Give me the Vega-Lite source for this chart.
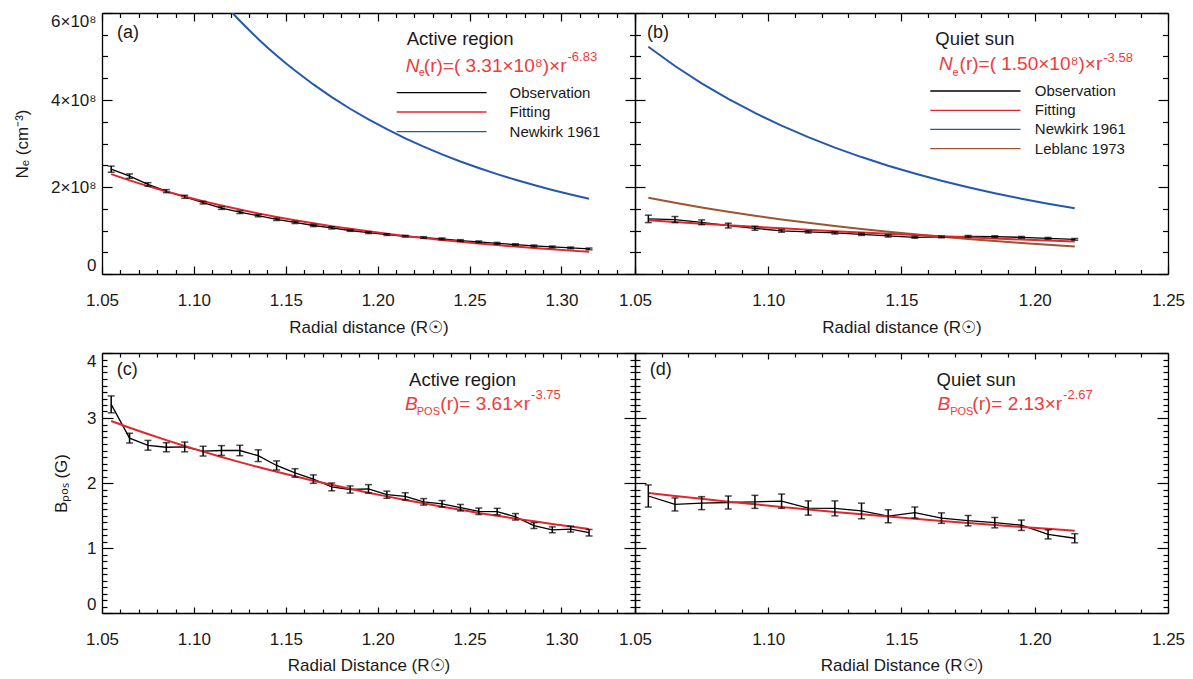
{
"$schema": "https://vega.github.io/schema/vega-lite/v6.json",
"padding": {"left": 13, "top": 12, "right": 5, "bottom": 5},
"background": "white",
"config": {
 "font": "Liberation Sans",
 "view": {"stroke": null},
 "axis": {"grid": false, "domainColor": "#000", "domainWidth": 1.3, "tickColor": "#000", "tickWidth": 1.2, "labelFont": "Liberation Sans", "labelFontSize": 17, "labelColor": "#1a1a1a", "titleFont": "Liberation Sans", "titleFontSize": 17, "titleFontWeight": "normal", "titleColor": "#1a1a1a", "labelOverlap": false, "labelBound": false},
 "text": {"font": "Liberation Sans", "baseline": "middle", "align": "left"}
},
"datasets": {
 "a": [
  {"r":1.055,"v":241000000,"series":"Observation","err":7000000},
  {"r":1.065,"v":225000000,"series":"Observation","err":5000000},
  {"r":1.075,"v":206000000,"series":"Observation","err":4000000},
  {"r":1.085,"v":190500000,"series":"Observation","err":3500000},
  {"r":1.095,"v":177500000,"series":"Observation","err":3500000},
  {"r":1.105,"v":164000000,"series":"Observation","err":3000000},
  {"r":1.115,"v":151500000,"series":"Observation","err":3000000},
  {"r":1.125,"v":142000000,"series":"Observation","err":3000000},
  {"r":1.135,"v":134000000,"series":"Observation","err":2500000},
  {"r":1.145,"v":125500000,"series":"Observation","err":2500000},
  {"r":1.155,"v":118500000,"series":"Observation","err":2500000},
  {"r":1.165,"v":111500000,"series":"Observation","err":2500000},
  {"r":1.175,"v":106000000,"series":"Observation","err":2500000},
  {"r":1.185,"v":100000000,"series":"Observation","err":2000000},
  {"r":1.195,"v":95000000,"series":"Observation","err":2000000},
  {"r":1.205,"v":90700000,"series":"Observation","err":2000000},
  {"r":1.215,"v":86800000,"series":"Observation","err":2000000},
  {"r":1.225,"v":83800000,"series":"Observation","err":2000000},
  {"r":1.235,"v":80800000,"series":"Observation","err":2000000},
  {"r":1.245,"v":76900000,"series":"Observation","err":2000000},
  {"r":1.255,"v":73900000,"series":"Observation","err":2000000},
  {"r":1.265,"v":70600000,"series":"Observation","err":2000000},
  {"r":1.275,"v":67600000,"series":"Observation","err":2000000},
  {"r":1.285,"v":64600000,"series":"Observation","err":2000000},
  {"r":1.295,"v":62300000,"series":"Observation","err":2000000},
  {"r":1.305,"v":60000000,"series":"Observation","err":2000000},
  {"r":1.315,"v":57700000,"series":"Observation","err":2000000},
  {"r":1.055,"v":229610000,"series":"Fitting"},
  {"r":1.065,"v":215300000,"series":"Fitting"},
  {"r":1.075,"v":201980000,"series":"Fitting"},
  {"r":1.085,"v":189610000,"series":"Fitting"},
  {"r":1.095,"v":178080000,"series":"Fitting"},
  {"r":1.105,"v":167360000,"series":"Fitting"},
  {"r":1.115,"v":157380000,"series":"Fitting"},
  {"r":1.125,"v":148070000,"series":"Fitting"},
  {"r":1.135,"v":139380000,"series":"Fitting"},
  {"r":1.145,"v":131270000,"series":"Fitting"},
  {"r":1.155,"v":123710000,"series":"Fitting"},
  {"r":1.165,"v":116630000,"series":"Fitting"},
  {"r":1.175,"v":110020000,"series":"Fitting"},
  {"r":1.185,"v":103830000,"series":"Fitting"},
  {"r":1.195,"v":98040000,"series":"Fitting"},
  {"r":1.205,"v":92610000,"series":"Fitting"},
  {"r":1.215,"v":87530000,"series":"Fitting"},
  {"r":1.225,"v":82760000,"series":"Fitting"},
  {"r":1.235,"v":78290000,"series":"Fitting"},
  {"r":1.245,"v":74100000,"series":"Fitting"},
  {"r":1.255,"v":70160000,"series":"Fitting"},
  {"r":1.265,"v":66460000,"series":"Fitting"},
  {"r":1.275,"v":62980000,"series":"Fitting"},
  {"r":1.285,"v":59710000,"series":"Fitting"},
  {"r":1.295,"v":56630000,"series":"Fitting"},
  {"r":1.305,"v":53730000,"series":"Fitting"},
  {"r":1.315,"v":51000000,"series":"Fitting"},
  {"r":1.115,"v":627900000,"series":"Newkirk 1961"},
  {"r":1.12,"v":604400000,"series":"Newkirk 1961"},
  {"r":1.125,"v":582200000,"series":"Newkirk 1961"},
  {"r":1.13,"v":560800000,"series":"Newkirk 1961"},
  {"r":1.135,"v":540400000,"series":"Newkirk 1961"},
  {"r":1.14,"v":520900000,"series":"Newkirk 1961"},
  {"r":1.145,"v":502400000,"series":"Newkirk 1961"},
  {"r":1.15,"v":484500000,"series":"Newkirk 1961"},
  {"r":1.155,"v":467700000,"series":"Newkirk 1961"},
  {"r":1.165,"v":435800000,"series":"Newkirk 1961"},
  {"r":1.175,"v":406700000,"series":"Newkirk 1961"},
  {"r":1.185,"v":379900000,"series":"Newkirk 1961"},
  {"r":1.195,"v":355300000,"series":"Newkirk 1961"},
  {"r":1.205,"v":332800000,"series":"Newkirk 1961"},
  {"r":1.215,"v":311800000,"series":"Newkirk 1961"},
  {"r":1.225,"v":292800000,"series":"Newkirk 1961"},
  {"r":1.235,"v":275000000,"series":"Newkirk 1961"},
  {"r":1.245,"v":258600000,"series":"Newkirk 1961"},
  {"r":1.255,"v":243600000,"series":"Newkirk 1961"},
  {"r":1.265,"v":229500000,"series":"Newkirk 1961"},
  {"r":1.275,"v":216500000,"series":"Newkirk 1961"},
  {"r":1.285,"v":204400000,"series":"Newkirk 1961"},
  {"r":1.295,"v":193200000,"series":"Newkirk 1961"},
  {"r":1.305,"v":182800000,"series":"Newkirk 1961"},
  {"r":1.315,"v":173100000,"series":"Newkirk 1961"}
 ],
 "b": [
  {"r":1.055,"v":126700000,"series":"Observation","err":8500000},
  {"r":1.065,"v":125100000,"series":"Observation","err":7000000},
  {"r":1.075,"v":118900000,"series":"Observation","err":5500000},
  {"r":1.085,"v":111300000,"series":"Observation","err":5500000},
  {"r":1.095,"v":105100000,"series":"Observation","err":4500000},
  {"r":1.105,"v":99100000,"series":"Observation","err":3000000},
  {"r":1.115,"v":96800000,"series":"Observation","err":2500000},
  {"r":1.125,"v":94500000,"series":"Observation","err":2500000},
  {"r":1.135,"v":91200000,"series":"Observation","err":2500000},
  {"r":1.145,"v":87600000,"series":"Observation","err":2500000},
  {"r":1.155,"v":84300000,"series":"Observation","err":2000000},
  {"r":1.165,"v":85200000,"series":"Observation","err":2000000},
  {"r":1.175,"v":86600000,"series":"Observation","err":2000000},
  {"r":1.185,"v":85900000,"series":"Observation","err":2000000},
  {"r":1.195,"v":84300000,"series":"Observation","err":2000000},
  {"r":1.205,"v":82000000,"series":"Observation","err":2000000},
  {"r":1.215,"v":79700000,"series":"Observation","err":2000000},
  {"r":1.055,"v":123840000,"series":"Fitting"},
  {"r":1.065,"v":119720000,"series":"Fitting"},
  {"r":1.075,"v":115780000,"series":"Fitting"},
  {"r":1.085,"v":112010000,"series":"Fitting"},
  {"r":1.095,"v":108390000,"series":"Fitting"},
  {"r":1.105,"v":104920000,"series":"Fitting"},
  {"r":1.115,"v":101590000,"series":"Fitting"},
  {"r":1.125,"v":98400000,"series":"Fitting"},
  {"r":1.135,"v":95330000,"series":"Fitting"},
  {"r":1.145,"v":92380000,"series":"Fitting"},
  {"r":1.155,"v":89550000,"series":"Fitting"},
  {"r":1.165,"v":86830000,"series":"Fitting"},
  {"r":1.175,"v":84210000,"series":"Fitting"},
  {"r":1.185,"v":81690000,"series":"Fitting"},
  {"r":1.195,"v":79270000,"series":"Fitting"},
  {"r":1.205,"v":76940000,"series":"Fitting"},
  {"r":1.215,"v":74700000,"series":"Fitting"},
  {"r":1.055,"v":522400000,"series":"Newkirk 1961"},
  {"r":1.065,"v":478200000,"series":"Newkirk 1961"},
  {"r":1.075,"v":438400000,"series":"Newkirk 1961"},
  {"r":1.085,"v":402600000,"series":"Newkirk 1961"},
  {"r":1.095,"v":370200000,"series":"Newkirk 1961"},
  {"r":1.105,"v":341100000,"series":"Newkirk 1961"},
  {"r":1.115,"v":314500000,"series":"Newkirk 1961"},
  {"r":1.125,"v":290600000,"series":"Newkirk 1961"},
  {"r":1.135,"v":268800000,"series":"Newkirk 1961"},
  {"r":1.145,"v":249000000,"series":"Newkirk 1961"},
  {"r":1.155,"v":231000000,"series":"Newkirk 1961"},
  {"r":1.165,"v":214500000,"series":"Newkirk 1961"},
  {"r":1.175,"v":199500000,"series":"Newkirk 1961"},
  {"r":1.185,"v":185700000,"series":"Newkirk 1961"},
  {"r":1.195,"v":173100000,"series":"Newkirk 1961"},
  {"r":1.205,"v":161600000,"series":"Newkirk 1961"},
  {"r":1.215,"v":150900000,"series":"Newkirk 1961"},
  {"r":1.055,"v":175100000,"series":"Leblanc 1973"},
  {"r":1.065,"v":163600000,"series":"Leblanc 1973"},
  {"r":1.075,"v":153000000,"series":"Leblanc 1973"},
  {"r":1.085,"v":143100000,"series":"Leblanc 1973"},
  {"r":1.095,"v":133900000,"series":"Leblanc 1973"},
  {"r":1.105,"v":125500000,"series":"Leblanc 1973"},
  {"r":1.115,"v":117600000,"series":"Leblanc 1973"},
  {"r":1.125,"v":110300000,"series":"Leblanc 1973"},
  {"r":1.135,"v":103500000,"series":"Leblanc 1973"},
  {"r":1.145,"v":97100000,"series":"Leblanc 1973"},
  {"r":1.155,"v":91200000,"series":"Leblanc 1973"},
  {"r":1.165,"v":85700000,"series":"Leblanc 1973"},
  {"r":1.175,"v":80600000,"series":"Leblanc 1973"},
  {"r":1.185,"v":75800000,"series":"Leblanc 1973"},
  {"r":1.195,"v":71400000,"series":"Leblanc 1973"},
  {"r":1.205,"v":67200000,"series":"Leblanc 1973"},
  {"r":1.215,"v":63300000,"series":"Leblanc 1973"}
 ],
 "c": [
  {"r":1.055,"v":3.21,"series":"Observation","err":0.13},
  {"r":1.065,"v":2.69,"series":"Observation","err":0.075},
  {"r":1.075,"v":2.58,"series":"Observation","err":0.075},
  {"r":1.085,"v":2.55,"series":"Observation","err":0.07},
  {"r":1.095,"v":2.555,"series":"Observation","err":0.075},
  {"r":1.105,"v":2.49,"series":"Observation","err":0.075},
  {"r":1.115,"v":2.5,"series":"Observation","err":0.075},
  {"r":1.125,"v":2.5,"series":"Observation","err":0.08},
  {"r":1.135,"v":2.42,"series":"Observation","err":0.09},
  {"r":1.145,"v":2.27,"series":"Observation","err":0.07},
  {"r":1.155,"v":2.155,"series":"Observation","err":0.065},
  {"r":1.165,"v":2.06,"series":"Observation","err":0.065},
  {"r":1.175,"v":1.94,"series":"Observation","err":0.06},
  {"r":1.185,"v":1.9,"series":"Observation","err":0.055},
  {"r":1.195,"v":1.91,"series":"Observation","err":0.065},
  {"r":1.205,"v":1.82,"series":"Observation","err":0.055},
  {"r":1.215,"v":1.795,"series":"Observation","err":0.055},
  {"r":1.225,"v":1.71,"series":"Observation","err":0.05},
  {"r":1.235,"v":1.68,"series":"Observation","err":0.05},
  {"r":1.245,"v":1.62,"series":"Observation","err":0.05},
  {"r":1.255,"v":1.565,"series":"Observation","err":0.05},
  {"r":1.265,"v":1.56,"series":"Observation","err":0.05},
  {"r":1.275,"v":1.48,"series":"Observation","err":0.05},
  {"r":1.285,"v":1.345,"series":"Observation","err":0.045},
  {"r":1.295,"v":1.28,"series":"Observation","err":0.045},
  {"r":1.305,"v":1.29,"series":"Observation","err":0.045},
  {"r":1.315,"v":1.235,"series":"Observation","err":0.05},
  {"r":1.055,"v":2.953,"series":"Fitting"},
  {"r":1.065,"v":2.851,"series":"Fitting"},
  {"r":1.075,"v":2.753,"series":"Fitting"},
  {"r":1.085,"v":2.659,"series":"Fitting"},
  {"r":1.095,"v":2.569,"series":"Fitting"},
  {"r":1.105,"v":2.483,"series":"Fitting"},
  {"r":1.115,"v":2.4,"series":"Fitting"},
  {"r":1.125,"v":2.321,"series":"Fitting"},
  {"r":1.135,"v":2.245,"series":"Fitting"},
  {"r":1.145,"v":2.173,"series":"Fitting"},
  {"r":1.155,"v":2.103,"series":"Fitting"},
  {"r":1.165,"v":2.036,"series":"Fitting"},
  {"r":1.175,"v":1.972,"series":"Fitting"},
  {"r":1.185,"v":1.91,"series":"Fitting"},
  {"r":1.195,"v":1.851,"series":"Fitting"},
  {"r":1.205,"v":1.794,"series":"Fitting"},
  {"r":1.215,"v":1.739,"series":"Fitting"},
  {"r":1.225,"v":1.687,"series":"Fitting"},
  {"r":1.235,"v":1.636,"series":"Fitting"},
  {"r":1.245,"v":1.587,"series":"Fitting"},
  {"r":1.255,"v":1.54,"series":"Fitting"},
  {"r":1.265,"v":1.495,"series":"Fitting"},
  {"r":1.275,"v":1.452,"series":"Fitting"},
  {"r":1.285,"v":1.41,"series":"Fitting"},
  {"r":1.295,"v":1.369,"series":"Fitting"},
  {"r":1.305,"v":1.33,"series":"Fitting"},
  {"r":1.315,"v":1.293,"series":"Fitting"}
 ],
 "d": [
  {"r":1.055,"v":1.8,"series":"Observation","err":0.17},
  {"r":1.065,"v":1.67,"series":"Observation","err":0.1},
  {"r":1.075,"v":1.69,"series":"Observation","err":0.1},
  {"r":1.085,"v":1.7,"series":"Observation","err":0.1},
  {"r":1.095,"v":1.71,"series":"Observation","err":0.1},
  {"r":1.105,"v":1.72,"series":"Observation","err":0.11},
  {"r":1.115,"v":1.615,"series":"Observation","err":0.11},
  {"r":1.125,"v":1.61,"series":"Observation","err":0.115},
  {"r":1.135,"v":1.57,"series":"Observation","err":0.12},
  {"r":1.145,"v":1.49,"series":"Observation","err":0.1},
  {"r":1.155,"v":1.545,"series":"Observation","err":0.085},
  {"r":1.165,"v":1.46,"series":"Observation","err":0.08},
  {"r":1.175,"v":1.42,"series":"Observation","err":0.08},
  {"r":1.185,"v":1.39,"series":"Observation","err":0.08},
  {"r":1.195,"v":1.35,"series":"Observation","err":0.08},
  {"r":1.205,"v":1.21,"series":"Observation","err":0.07},
  {"r":1.215,"v":1.15,"series":"Observation","err":0.07},
  {"r":1.055,"v":1.846,"series":"Fitting"},
  {"r":1.065,"v":1.8,"series":"Fitting"},
  {"r":1.075,"v":1.756,"series":"Fitting"},
  {"r":1.085,"v":1.713,"series":"Fitting"},
  {"r":1.095,"v":1.672,"series":"Fitting"},
  {"r":1.105,"v":1.632,"series":"Fitting"},
  {"r":1.115,"v":1.593,"series":"Fitting"},
  {"r":1.125,"v":1.555,"series":"Fitting"},
  {"r":1.135,"v":1.519,"series":"Fitting"},
  {"r":1.145,"v":1.484,"series":"Fitting"},
  {"r":1.155,"v":1.45,"series":"Fitting"},
  {"r":1.165,"v":1.417,"series":"Fitting"},
  {"r":1.175,"v":1.385,"series":"Fitting"},
  {"r":1.185,"v":1.354,"series":"Fitting"},
  {"r":1.195,"v":1.324,"series":"Fitting"},
  {"r":1.205,"v":1.295,"series":"Fitting"},
  {"r":1.215,"v":1.266,"series":"Fitting"}
 ]
},
"columns": 2,
"bounds": "flush",
"spacing": {"row": 79, "column": 0},
"concat": [
 {
  "width": 533, "height": 261,
  "data": {"name": "a"},
  "resolve": {"axis": {"x": "independent", "y": "independent"}},
  "layer": [
   {"transform": [{"filter": "datum.series == 'Newkirk 1961'"}],
    "mark": {"type": "line", "color": "#2458b0", "strokeWidth": 2, "clip": true},
    "encoding": {
     "x": {"field": "r", "type": "quantitative", "scale": {"domain": [1.05, 1.34], "nice": false, "zero": false},
      "axis": {"orient": "bottom", "values": [1.05,1.06,1.07,1.08,1.09,1.1,1.11,1.12,1.13,1.14,1.15,1.16,1.17,1.18,1.19,1.2,1.21,1.22,1.23,1.24,1.25,1.26,1.27,1.28,1.29,1.3,1.31,1.32,1.33,1.34],
       "tickSize": {"condition": {"test": "abs(datum.value*20-round(datum.value*20))<0.001", "value": -8}, "value": -4.5},
       "labelExpr": "abs(datum.value*20-round(datum.value*20))<0.001 ? format(datum.value,'.2f') : ''",
       "labelPadding": 26, "labelFlush": false, "title": "Radial distance (R☉)", "titlePadding": 8}},
     "y": {"field": "v", "type": "quantitative", "scale": {"domain": [0, 600000000], "nice": false, "zero": false},
      "axis": {"orient": "left", "values": [0,50000000,100000000,150000000,200000000,250000000,300000000,350000000,400000000,450000000,500000000,550000000,600000000],
       "tickSize": {"condition": {"test": "abs(datum.value/2e8-round(datum.value/2e8))<0.001", "value": -10}, "value": -5.5},
       "labelExpr": "abs(datum.value/2e8-round(datum.value/2e8))<0.001 ? (datum.value == 0 ? '0' : format(datum.value/1e8,'d') + '×10⁸') : ''",
       "labelPadding": 16, "labelFlush": true, "title": "Nₑ (cm⁻³)", "titlePadding": 19}}
    }},
   {"transform": [{"filter": "datum.series == 'Fitting'"}],
    "mark": {"type": "line", "opacity": 0},
    "encoding": {
     "x": {"field": "r", "type": "quantitative",
      "axis": {"orient": "top", "values": [1.05,1.06,1.07,1.08,1.09,1.1,1.11,1.12,1.13,1.14,1.15,1.16,1.17,1.18,1.19,1.2,1.21,1.22,1.23,1.24,1.25,1.26,1.27,1.28,1.29,1.3,1.31,1.32,1.33,1.34],
       "tickSize": {"condition": {"test": "abs(datum.value*20-round(datum.value*20))<0.001", "value": -8}, "value": -4.5},
       "labels": false, "title": null}},
     "y": {"field": "v", "type": "quantitative",
      "axis": {"orient": "right", "values": [0,50000000,100000000,150000000,200000000,250000000,300000000,350000000,400000000,450000000,500000000,550000000,600000000],
       "tickSize": {"condition": {"test": "abs(datum.value/2e8-round(datum.value/2e8))<0.001", "value": -10}, "value": -5.5},
       "labels": false, "title": null}}
    }},
   {"transform": [{"filter": "datum.series == 'Observation'"}],
    "mark": {"type": "line", "color": "#000", "strokeWidth": 1.3},
    "encoding": {"x": {"field": "r", "type": "quantitative", "axis": null}, "y": {"field": "v", "type": "quantitative", "axis": null}}},
   {"transform": [{"filter": "datum.series == 'Fitting'"}],
    "mark": {"type": "line", "color": "#e0262e", "strokeWidth": 2},
    "encoding": {"x": {"field": "r", "type": "quantitative", "axis": null}, "y": {"field": "v", "type": "quantitative", "axis": null}}},
   {"transform": [{"filter": "datum.series == 'Observation'"}],
    "mark": {"type": "errorbar", "color": "#000", "thickness": 1.5, "ticks": {"size": 7, "thickness": 1.5, "color": "#000"}},
    "encoding": {"x": {"field": "r", "type": "quantitative", "axis": null}, "y": {"field": "v", "type": "quantitative", "axis": null}, "yError": {"field": "err"}}},
   {"data": {"values": [{}]}, "mark": {"type": "text", "text": "(a)", "fontSize": 18, "color": "#1a1a1a"},
    "encoding": {"x": {"datum": 1.05815, "axis": null}, "y": {"datum": 554700000, "axis": null}}},
   {"data": {"values": [{}]}, "mark": {"type": "text", "text": "Active region", "fontSize": 18.5, "color": "#1a1a1a"},
    "encoding": {"x": {"datum": 1.21576, "axis": null}, "y": {"datum": 539500000, "axis": null}}},
   {"data": {"values": [{}]}, "mark": {"type": "text", "text": "N", "fontSize": 19, "fontStyle": "italic", "color": "#ef3b3b"},
    "encoding": {"x": {"datum": 1.21522, "axis": null}, "y": {"datum": 478200000, "axis": null}}},
   {"data": {"values": [{}]}, "mark": {"type": "text", "text": "e", "fontSize": 11, "color": "#ef3b3b"},
    "encoding": {"x": {"datum": 1.22228, "axis": null}, "y": {"datum": 462800000, "axis": null}}},
   {"data": {"values": [{}]}, "mark": {"type": "text", "text": "(r)=( 3.31×10⁸)×r", "fontSize": 19, "align": "right", "color": "#ef3b3b"},
    "encoding": {"x": {"datum": 1.30272, "axis": null}, "y": {"datum": 478200000, "axis": null}}},
   {"data": {"values": [{}]}, "mark": {"type": "text", "text": "-6.83", "fontSize": 13, "color": "#ef3b3b"},
    "encoding": {"x": {"datum": 1.30326, "axis": null}, "y": {"datum": 498900000, "axis": null}}},
   {"data": {"values": [{}]}, "mark": {"type": "rule", "color": "#000", "strokeWidth": 1.3},
    "encoding": {"x": {"datum": 1.21033, "axis": null}, "x2": {"datum": 1.25924}, "y": {"datum": 416800000, "axis": null}}},
   {"data": {"values": [{}]}, "mark": {"type": "rule", "color": "#e0262e", "strokeWidth": 1.3},
    "encoding": {"x": {"datum": 1.21033, "axis": null}, "x2": {"datum": 1.25924}, "y": {"datum": 372400000, "axis": null}}},
   {"data": {"values": [{}]}, "mark": {"type": "rule", "color": "#2458b0", "strokeWidth": 1.3},
    "encoding": {"x": {"datum": 1.21033, "axis": null}, "x2": {"datum": 1.25924}, "y": {"datum": 327100000, "axis": null}}},
   {"data": {"values": [{}]}, "mark": {"type": "text", "text": "Observation", "fontSize": 15, "color": "#1a1a1a"},
    "encoding": {"x": {"datum": 1.27174, "axis": null}, "y": {"datum": 416800000, "axis": null}}},
   {"data": {"values": [{}]}, "mark": {"type": "text", "text": "Fitting", "fontSize": 15, "color": "#1a1a1a"},
    "encoding": {"x": {"datum": 1.27174, "axis": null}, "y": {"datum": 372400000, "axis": null}}},
   {"data": {"values": [{}]}, "mark": {"type": "text", "text": "Newkirk 1961", "fontSize": 15, "color": "#1a1a1a"},
    "encoding": {"x": {"datum": 1.27174, "axis": null}, "y": {"datum": 327100000, "axis": null}}}
  ]
 },
 {
  "width": 533, "height": 261,
  "data": {"name": "b"},
  "resolve": {"axis": {"x": "independent", "y": "independent"}},
  "layer": [
   {"transform": [{"filter": "datum.series == 'Newkirk 1961'"}],
    "mark": {"type": "line", "color": "#2458b0", "strokeWidth": 2, "clip": true},
    "encoding": {
     "x": {"field": "r", "type": "quantitative", "scale": {"domain": [1.05, 1.25], "nice": false, "zero": false},
      "axis": {"orient": "bottom", "values": [1.05,1.06,1.07,1.08,1.09,1.1,1.11,1.12,1.13,1.14,1.15,1.16,1.17,1.18,1.19,1.2,1.21,1.22,1.23,1.24,1.25],
       "tickSize": {"condition": {"test": "abs(datum.value*20-round(datum.value*20))<0.001", "value": -8}, "value": -4.5},
       "labelExpr": "abs(datum.value*20-round(datum.value*20))<0.001 ? format(datum.value,'.2f') : ''",
       "labelPadding": 26, "labelFlush": false, "title": "Radial distance (R☉)", "titlePadding": 8}},
     "y": {"field": "v", "type": "quantitative", "scale": {"domain": [0, 600000000], "nice": false, "zero": false},
      "axis": {"orient": "left", "values": [0,50000000,100000000,150000000,200000000,250000000,300000000,350000000,400000000,450000000,500000000,550000000,600000000],
       "tickSize": {"condition": {"test": "abs(datum.value/2e8-round(datum.value/2e8))<0.001", "value": -10}, "value": -5.5},
       "labels": false, "title": null}}
    }},
   {"transform": [{"filter": "datum.series == 'Fitting'"}],
    "mark": {"type": "line", "opacity": 0},
    "encoding": {
     "x": {"field": "r", "type": "quantitative",
      "axis": {"orient": "top", "values": [1.05,1.06,1.07,1.08,1.09,1.1,1.11,1.12,1.13,1.14,1.15,1.16,1.17,1.18,1.19,1.2,1.21,1.22,1.23,1.24,1.25],
       "tickSize": {"condition": {"test": "abs(datum.value*20-round(datum.value*20))<0.001", "value": -8}, "value": -4.5},
       "labels": false, "title": null}},
     "y": {"field": "v", "type": "quantitative",
      "axis": {"orient": "right", "values": [0,50000000,100000000,150000000,200000000,250000000,300000000,350000000,400000000,450000000,500000000,550000000,600000000],
       "tickSize": {"condition": {"test": "abs(datum.value/2e8-round(datum.value/2e8))<0.001", "value": -10}, "value": -5.5},
       "labels": false, "title": null}}
    }},
   {"transform": [{"filter": "datum.series == 'Leblanc 1973'"}],
    "mark": {"type": "line", "color": "#9b5530", "strokeWidth": 2},
    "encoding": {"x": {"field": "r", "type": "quantitative", "axis": null}, "y": {"field": "v", "type": "quantitative", "axis": null}}},
   {"transform": [{"filter": "datum.series == 'Observation'"}],
    "mark": {"type": "line", "color": "#000", "strokeWidth": 1.3},
    "encoding": {"x": {"field": "r", "type": "quantitative", "axis": null}, "y": {"field": "v", "type": "quantitative", "axis": null}}},
   {"transform": [{"filter": "datum.series == 'Fitting'"}],
    "mark": {"type": "line", "color": "#e0262e", "strokeWidth": 2},
    "encoding": {"x": {"field": "r", "type": "quantitative", "axis": null}, "y": {"field": "v", "type": "quantitative", "axis": null}}},
   {"transform": [{"filter": "datum.series == 'Observation'"}],
    "mark": {"type": "errorbar", "color": "#000", "thickness": 1.5, "ticks": {"size": 7, "thickness": 1.5, "color": "#000"}},
    "encoding": {"x": {"field": "r", "type": "quantitative", "axis": null}, "y": {"field": "v", "type": "quantitative", "axis": null}, "yError": {"field": "err"}}},
   {"data": {"values": [{}]}, "mark": {"type": "text", "text": "(b)", "fontSize": 18, "color": "#1a1a1a"},
    "encoding": {"x": {"datum": 1.0545, "axis": null}, "y": {"datum": 554700000, "axis": null}}},
   {"data": {"values": [{}]}, "mark": {"type": "text", "text": "Quiet sun", "fontSize": 18.5, "color": "#1a1a1a"},
    "encoding": {"x": {"datum": 1.16268, "axis": null}, "y": {"datum": 539500000, "axis": null}}},
   {"data": {"values": [{}]}, "mark": {"type": "text", "text": "N", "fontSize": 19, "fontStyle": "italic", "color": "#ef3b3b"},
    "encoding": {"x": {"datum": 1.16403, "axis": null}, "y": {"datum": 482100000, "axis": null}}},
   {"data": {"values": [{}]}, "mark": {"type": "text", "text": "e", "fontSize": 11, "color": "#ef3b3b"},
    "encoding": {"x": {"datum": 1.16911, "axis": null}, "y": {"datum": 462800000, "axis": null}}},
   {"data": {"values": [{}]}, "mark": {"type": "text", "text": "(r)=( 1.50×10⁸)×r", "fontSize": 19, "align": "right", "color": "#ef3b3b"},
    "encoding": {"x": {"datum": 1.22532, "axis": null}, "y": {"datum": 482100000, "axis": null}}},
   {"data": {"values": [{}]}, "mark": {"type": "text", "text": "-3.58", "fontSize": 13, "color": "#ef3b3b"},
    "encoding": {"x": {"datum": 1.2257, "axis": null}, "y": {"datum": 497300000, "axis": null}}},
   {"data": {"values": [{}]}, "mark": {"type": "rule", "color": "#000", "strokeWidth": 1.3},
    "encoding": {"x": {"datum": 1.1608, "axis": null}, "x2": {"datum": 1.19467}, "y": {"datum": 420700000, "axis": null}}},
   {"data": {"values": [{}]}, "mark": {"type": "rule", "color": "#e0262e", "strokeWidth": 1.3},
    "encoding": {"x": {"datum": 1.1608, "axis": null}, "x2": {"datum": 1.19467}, "y": {"datum": 376300000, "axis": null}}},
   {"data": {"values": [{}]}, "mark": {"type": "rule", "color": "#2458b0", "strokeWidth": 1.3},
    "encoding": {"x": {"datum": 1.1608, "axis": null}, "x2": {"datum": 1.19467}, "y": {"datum": 332700000, "axis": null}}},
   {"data": {"values": [{}]}, "mark": {"type": "rule", "color": "#9b5530", "strokeWidth": 1.3},
    "encoding": {"x": {"datum": 1.1608, "axis": null}, "x2": {"datum": 1.19467}, "y": {"datum": 288100000, "axis": null}}},
   {"data": {"values": [{}]}, "mark": {"type": "text", "text": "Observation", "fontSize": 15, "color": "#1a1a1a"},
    "encoding": {"x": {"datum": 1.20004, "axis": null}, "y": {"datum": 420700000, "axis": null}}},
   {"data": {"values": [{}]}, "mark": {"type": "text", "text": "Fitting", "fontSize": 15, "color": "#1a1a1a"},
    "encoding": {"x": {"datum": 1.20004, "axis": null}, "y": {"datum": 376300000, "axis": null}}},
   {"data": {"values": [{}]}, "mark": {"type": "text", "text": "Newkirk 1961", "fontSize": 15, "color": "#1a1a1a"},
    "encoding": {"x": {"datum": 1.20004, "axis": null}, "y": {"datum": 332700000, "axis": null}}},
   {"data": {"values": [{}]}, "mark": {"type": "text", "text": "Leblanc 1973", "fontSize": 15, "color": "#1a1a1a"},
    "encoding": {"x": {"datum": 1.20004, "axis": null}, "y": {"datum": 288100000, "axis": null}}}
  ]
 },
 {
  "width": 533, "height": 260,
  "data": {"name": "c"},
  "resolve": {"axis": {"x": "independent", "y": "independent"}},
  "layer": [
   {"transform": [{"filter": "datum.series == 'Observation'"}],
    "mark": {"type": "line", "color": "#000", "strokeWidth": 1.3},
    "encoding": {
     "x": {"field": "r", "type": "quantitative", "scale": {"domain": [1.05, 1.34], "nice": false, "zero": false},
      "axis": {"orient": "bottom", "values": [1.05,1.06,1.07,1.08,1.09,1.1,1.11,1.12,1.13,1.14,1.15,1.16,1.17,1.18,1.19,1.2,1.21,1.22,1.23,1.24,1.25,1.26,1.27,1.28,1.29,1.3,1.31,1.32,1.33,1.34],
       "tickSize": {"condition": {"test": "abs(datum.value*20-round(datum.value*20))<0.001", "value": -6}, "value": -4},
       "labelExpr": "abs(datum.value*20-round(datum.value*20))<0.001 ? format(datum.value,'.2f') : ''",
       "labelPadding": 24, "labelFlush": false, "title": "Radial Distance (R☉)", "titlePadding": 8}},
     "y": {"field": "v", "type": "quantitative", "scale": {"domain": [0, 4], "nice": false, "zero": false},
      "axis": {"orient": "left", "values": [0,0.1,0.2,0.3,0.4,0.5,0.6,0.7,0.8,0.9,1,1.1,1.2,1.3,1.4,1.5,1.6,1.7,1.8,1.9,2,2.1,2.2,2.3,2.4,2.5,2.6,2.7,2.8,2.9,3,3.1,3.2,3.3,3.4,3.5,3.6,3.7,3.8,3.9,4],
       "tickSize": {"condition": {"test": "abs(datum.value-round(datum.value))<0.001", "value": -11}, "value": -5},
       "labelExpr": "abs(datum.value-round(datum.value))<0.001 ? format(datum.value,'d') : ''",
       "labelPadding": 17, "labelFlush": true, "title": "Bₚₒₛ (G)", "titlePadding": 16}}
    }},
   {"transform": [{"filter": "datum.series == 'Fitting'"}],
    "mark": {"type": "line", "opacity": 0},
    "encoding": {
     "x": {"field": "r", "type": "quantitative",
      "axis": {"orient": "top", "values": [1.05,1.06,1.07,1.08,1.09,1.1,1.11,1.12,1.13,1.14,1.15,1.16,1.17,1.18,1.19,1.2,1.21,1.22,1.23,1.24,1.25,1.26,1.27,1.28,1.29,1.3,1.31,1.32,1.33,1.34],
       "tickSize": {"condition": {"test": "abs(datum.value*20-round(datum.value*20))<0.001", "value": -6}, "value": -4},
       "labels": false, "title": null}},
     "y": {"field": "v", "type": "quantitative",
      "axis": {"orient": "right", "values": [0,0.1,0.2,0.3,0.4,0.5,0.6,0.7,0.8,0.9,1,1.1,1.2,1.3,1.4,1.5,1.6,1.7,1.8,1.9,2,2.1,2.2,2.3,2.4,2.5,2.6,2.7,2.8,2.9,3,3.1,3.2,3.3,3.4,3.5,3.6,3.7,3.8,3.9,4],
       "tickSize": {"condition": {"test": "abs(datum.value-round(datum.value))<0.001", "value": -11}, "value": -5},
       "labels": false, "title": null}}
    }},
   {"transform": [{"filter": "datum.series == 'Fitting'"}],
    "mark": {"type": "line", "color": "#e0262e", "strokeWidth": 2},
    "encoding": {"x": {"field": "r", "type": "quantitative", "axis": null}, "y": {"field": "v", "type": "quantitative", "axis": null}}},
   {"transform": [{"filter": "datum.series == 'Observation'"}],
    "mark": {"type": "errorbar", "color": "#000", "thickness": 1.5, "ticks": {"size": 7, "thickness": 1.5, "color": "#000"}},
    "encoding": {"x": {"field": "r", "type": "quantitative", "axis": null}, "y": {"field": "v", "type": "quantitative", "axis": null}, "yError": {"field": "err"}}},
   {"data": {"values": [{}]}, "mark": {"type": "text", "text": "(c)", "fontSize": 18, "color": "#1a1a1a"},
    "encoding": {"x": {"datum": 1.05799, "axis": null}, "y": {"datum": 3.734, "axis": null}}},
   {"data": {"values": [{}]}, "mark": {"type": "text", "text": "Active region", "fontSize": 18.5, "color": "#1a1a1a"},
    "encoding": {"x": {"datum": 1.21707, "axis": null}, "y": {"datum": 3.58, "axis": null}}},
   {"data": {"values": [{}]}, "mark": {"type": "text", "text": "B", "fontSize": 19, "fontStyle": "italic", "color": "#ef3b3b"},
    "encoding": {"x": {"datum": 1.21484, "axis": null}, "y": {"datum": 3.22, "axis": null}}},
   {"data": {"values": [{}]}, "mark": {"type": "text", "text": "POS", "fontSize": 11, "color": "#ef3b3b"},
    "encoding": {"x": {"datum": 1.22125, "axis": null}, "y": {"datum": 3.097, "axis": null}}},
   {"data": {"values": [{}]}, "mark": {"type": "text", "text": "(r)= 3.61×r", "fontSize": 19, "align": "right", "color": "#ef3b3b"},
    "encoding": {"x": {"datum": 1.28294, "axis": null}, "y": {"datum": 3.22, "axis": null}}},
   {"data": {"values": [{}]}, "mark": {"type": "text", "text": "-3.75", "fontSize": 13, "color": "#ef3b3b"},
    "encoding": {"x": {"datum": 1.28348, "axis": null}, "y": {"datum": 3.349, "axis": null}}}
  ]
 },
 {
  "width": 533, "height": 260,
  "data": {"name": "d"},
  "resolve": {"axis": {"x": "independent", "y": "independent"}},
  "layer": [
   {"transform": [{"filter": "datum.series == 'Observation'"}],
    "mark": {"type": "line", "color": "#000", "strokeWidth": 1.3},
    "encoding": {
     "x": {"field": "r", "type": "quantitative", "scale": {"domain": [1.05, 1.25], "nice": false, "zero": false},
      "axis": {"orient": "bottom", "values": [1.05,1.06,1.07,1.08,1.09,1.1,1.11,1.12,1.13,1.14,1.15,1.16,1.17,1.18,1.19,1.2,1.21,1.22,1.23,1.24,1.25],
       "tickSize": {"condition": {"test": "abs(datum.value*20-round(datum.value*20))<0.001", "value": -6}, "value": -4},
       "labelExpr": "abs(datum.value*20-round(datum.value*20))<0.001 ? format(datum.value,'.2f') : ''",
       "labelPadding": 24, "labelFlush": false, "title": "Radial Distance (R☉)", "titlePadding": 8}},
     "y": {"field": "v", "type": "quantitative", "scale": {"domain": [0, 4], "nice": false, "zero": false},
      "axis": {"orient": "left", "values": [0,0.1,0.2,0.3,0.4,0.5,0.6,0.7,0.8,0.9,1,1.1,1.2,1.3,1.4,1.5,1.6,1.7,1.8,1.9,2,2.1,2.2,2.3,2.4,2.5,2.6,2.7,2.8,2.9,3,3.1,3.2,3.3,3.4,3.5,3.6,3.7,3.8,3.9,4],
       "tickSize": {"condition": {"test": "abs(datum.value-round(datum.value))<0.001", "value": -11}, "value": -5},
       "labels": false, "title": null}}
    }},
   {"transform": [{"filter": "datum.series == 'Fitting'"}],
    "mark": {"type": "line", "opacity": 0},
    "encoding": {
     "x": {"field": "r", "type": "quantitative",
      "axis": {"orient": "top", "values": [1.05,1.06,1.07,1.08,1.09,1.1,1.11,1.12,1.13,1.14,1.15,1.16,1.17,1.18,1.19,1.2,1.21,1.22,1.23,1.24,1.25],
       "tickSize": {"condition": {"test": "abs(datum.value*20-round(datum.value*20))<0.001", "value": -6}, "value": -4},
       "labels": false, "title": null}},
     "y": {"field": "v", "type": "quantitative",
      "axis": {"orient": "right", "values": [0,0.1,0.2,0.3,0.4,0.5,0.6,0.7,0.8,0.9,1,1.1,1.2,1.3,1.4,1.5,1.6,1.7,1.8,1.9,2,2.1,2.2,2.3,2.4,2.5,2.6,2.7,2.8,2.9,3,3.1,3.2,3.3,3.4,3.5,3.6,3.7,3.8,3.9,4],
       "tickSize": {"condition": {"test": "abs(datum.value-round(datum.value))<0.001", "value": -11}, "value": -5},
       "labels": false, "title": null}}
    }},
   {"transform": [{"filter": "datum.series == 'Fitting'"}],
    "mark": {"type": "line", "color": "#e0262e", "strokeWidth": 2},
    "encoding": {"x": {"field": "r", "type": "quantitative", "axis": null}, "y": {"field": "v", "type": "quantitative", "axis": null}}},
   {"transform": [{"filter": "datum.series == 'Observation'"}],
    "mark": {"type": "errorbar", "color": "#000", "thickness": 1.5, "ticks": {"size": 7, "thickness": 1.5, "color": "#000"}},
    "encoding": {"x": {"field": "r", "type": "quantitative", "axis": null}, "y": {"field": "v", "type": "quantitative", "axis": null}, "yError": {"field": "err"}}},
   {"data": {"values": [{}]}, "mark": {"type": "text", "text": "(d)", "fontSize": 18, "color": "#1a1a1a"},
    "encoding": {"x": {"datum": 1.05551, "axis": null}, "y": {"datum": 3.734, "axis": null}}},
   {"data": {"values": [{}]}, "mark": {"type": "text", "text": "Quiet sun", "fontSize": 18.5, "color": "#1a1a1a"},
    "encoding": {"x": {"datum": 1.16317, "axis": null}, "y": {"datum": 3.58, "axis": null}}},
   {"data": {"values": [{}]}, "mark": {"type": "text", "text": "B", "fontSize": 19, "fontStyle": "italic", "color": "#ef3b3b"},
    "encoding": {"x": {"datum": 1.16355, "axis": null}, "y": {"datum": 3.22, "axis": null}}},
   {"data": {"values": [{}]}, "mark": {"type": "text", "text": "POS", "fontSize": 11, "color": "#ef3b3b"},
    "encoding": {"x": {"datum": 1.16827, "axis": null}, "y": {"datum": 3.097, "axis": null}}},
   {"data": {"values": [{}]}, "mark": {"type": "text", "text": "(r)= 2.13×r", "fontSize": 19, "align": "right", "color": "#ef3b3b"},
    "encoding": {"x": {"datum": 1.21025, "axis": null}, "y": {"datum": 3.22, "axis": null}}},
   {"data": {"values": [{}]}, "mark": {"type": "text", "text": "-2.67", "fontSize": 13, "color": "#ef3b3b"},
    "encoding": {"x": {"datum": 1.21063, "axis": null}, "y": {"datum": 3.349, "axis": null}}}
  ]
 }
]
}
